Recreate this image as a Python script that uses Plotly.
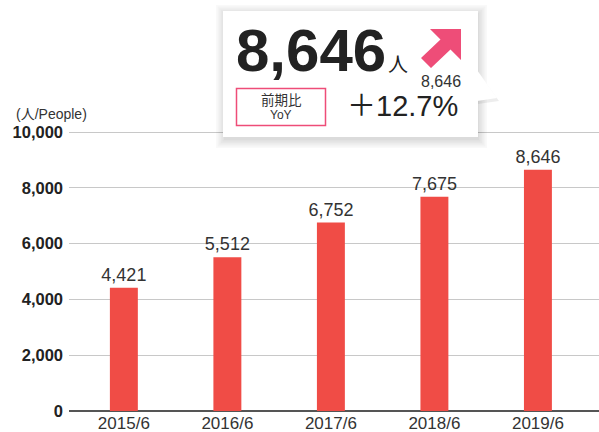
import plotly.graph_objects as go

categories = ["2015/6", "2016/6", "2017/6", "2018/6", "2019/6"]
people = [4421, 5512, 6752, 7675, 8646]
value_labels = ["4,421", "5,512", "6,752", "7,675", "8,646"]
y_tickvals = [0, 2000, 4000, 6000, 8000, 10000]
y_ticktext = ["0", "2,000", "4,000", "6,000", "8,000", "10,000"]
headline = "8,646"
yoy_text = "＋12.7%"

W, H = 599, 432
L, R, T, B = 69, 0, 129, 21
PW, PH = W - L - R, H - T - B
Y_TOP = 10000 * PH / 279.0

def px(x):
    return (x - L) / PW

def py(y):
    return (H - B - y) / PH

BAR = "#F04C46"
PINK = "#EE4D78"
TXT = "#333333"

fig = go.Figure()
fig.add_trace(go.Bar(
    x=categories, y=people, text=value_labels, textposition="outside",
    constraintext="none",
    textfont=dict(size=18, color=TXT, family="Liberation Sans, Arial"),
    marker=dict(color=BAR, line=dict(width=0)), width=0.27, cliponaxis=False,
    hoverinfo="skip",
))

shapes = []
# soft shadow of callout
for i in range(6):
    e = 1 + i * 1.6
    shapes.append(dict(type="rect", xref="paper", yref="paper",
                       x0=px(223 - e + 2), x1=px(478 + e), y0=py(137 + e + 2), y1=py(11 - e + 3),
                       line=dict(width=0), fillcolor="rgba(0,0,0,0.022)", layer="above"))
# pointer shadow
shapes.append(dict(type="path", xref="paper", yref="paper",
                   path=f"M {px(478)} {py(72)} L {px(499)} {py(101)} L {px(478)} {py(104)} Z",
                   line=dict(width=0), fillcolor="rgba(0,0,0,0.07)", layer="above"))
# box
shapes.append(dict(type="rect", xref="paper", yref="paper",
                   x0=px(223), x1=px(478), y0=py(137), y1=py(11),
                   line=dict(width=0), fillcolor="white", layer="above"))
# pointer
shapes.append(dict(type="path", xref="paper", yref="paper",
                   path=f"M {px(477)} {py(70)} L {px(497)} {py(98)} L {px(477)} {py(101)} Z",
                   line=dict(width=0), fillcolor="white", layer="above"))
# arrow
pts = [(461, 29), (430, 29), (440.5, 39.5), (421, 58), (431, 68), (450.5, 49.5), (461, 60)]
path = "M " + " L ".join(f"{px(a)} {py(b)}" for a, b in pts) + " Z"
shapes.append(dict(type="path", xref="paper", yref="paper", path=path,
                   line=dict(width=0), fillcolor=PINK, layer="above"))
# YoY box
shapes.append(dict(type="rect", xref="paper", yref="paper",
                   x0=px(236.5), x1=px(325.5), y0=py(125.5), y1=py(88.5),
                   line=dict(width=1.5, color=PINK), fillcolor="white", layer="above"))

def ann(text, x, y, size, color, family, xanchor="center"):
    return dict(text=text, x=px(x), y=py(y), xref="paper", yref="paper",
                xanchor=xanchor, yanchor="middle", showarrow=False,
                font=dict(size=size, color=color, family=family))

annotations = [
    ann(f"<b>{headline}</b>", 311, 50, 60, "#222222", "Liberation Sans, Arial"),
    ann("人", 398, 63, 20, "#222222", "Noto Sans CJK JP"),
    ann(headline, 441, 82, 16, TXT, "Liberation Sans, Arial"),
    ann(yoy_text, 402, 106, 29, "#222222", "Liberation Sans, Noto Sans CJK JP"),
    ann("前期比", 281, 99, 13.5, TXT, "Noto Sans CJK JP"),
    ann("YoY", 281, 115, 12, TXT, "Liberation Sans, Arial"),
    ann("(人/People)", 14, 114, 14, TXT, "Liberation Sans, Noto Sans CJK JP", xanchor="left"),
]

fig.update_layout(
    width=W, height=H, margin=dict(l=L, r=R, t=T, b=B, autoexpand=False),
    paper_bgcolor="white", plot_bgcolor="white", showlegend=False,
    shapes=shapes, annotations=annotations,
    xaxis=dict(range=[-0.53, 4.59], showgrid=False, showline=False, zeroline=False,
               ticks="", tickfont=dict(size=17, color=TXT, family="Liberation Sans, Arial"),
               fixedrange=True),
    yaxis=dict(range=[0, Y_TOP], tickvals=y_tickvals, ticktext=[f"<b>{t}</b>" for t in y_ticktext],
               showgrid=True, gridcolor="#C8C8C8", gridwidth=1,
               zeroline=True, zerolinecolor="#555555", zerolinewidth=2,
               showline=False, ticks="", ticklabelstandoff=5,
               tickfont=dict(size=16.5, color="#222222", family="Liberation Sans, Arial"),
               fixedrange=True),
)

fig.write_html("out.html", config={"displayModeBar": False},
               post_script="document.body.style.margin='0';document.body.style.overflow='hidden';")
